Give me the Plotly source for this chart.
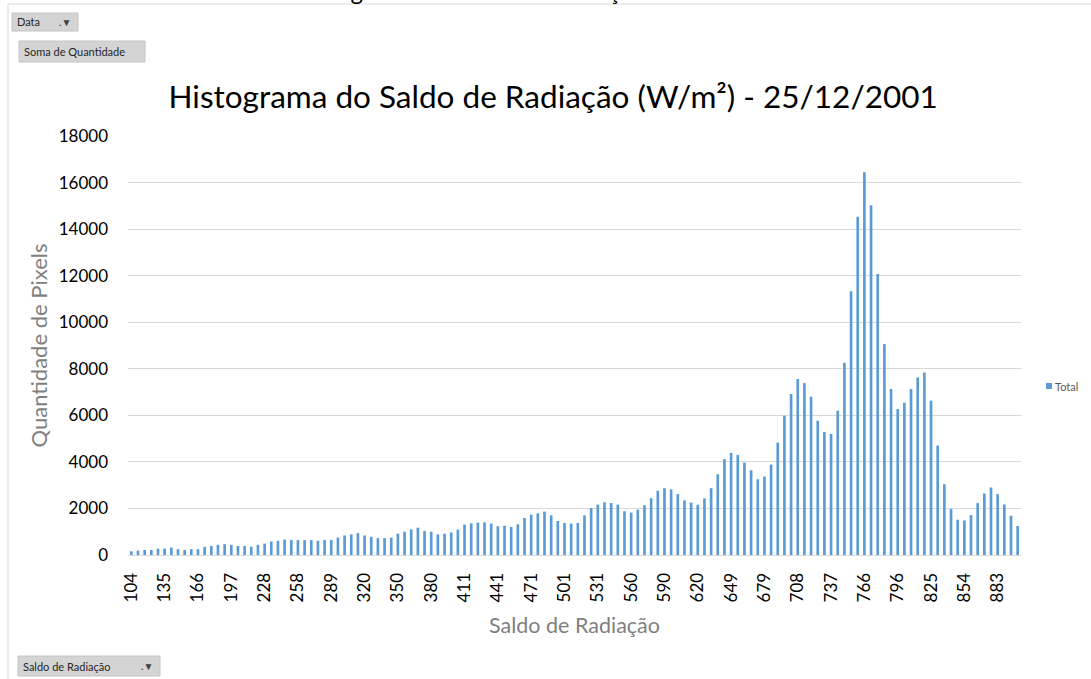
import plotly.graph_objects as go

# Saldo de Radiação bins (W/m²), as shown on the category axis
saldo = [104, 110, 116, 123, 129, 135, 141, 147, 154, 160,
         166, 172, 178, 185, 191, 197, 203, 209, 216, 222,
         228, 234, 240, 246, 252, 258, 264, 270, 277, 283,
         289, 295, 301, 308, 314, 320, 326, 332, 338, 344,
         350, 356, 362, 368, 374, 380, 386, 392, 399, 405,
         411, 417, 423, 429, 435, 441, 447, 453, 459, 465,
         471, 477, 483, 489, 495, 501, 507, 513, 519, 525,
         531, 537, 543, 548, 554, 560, 566, 572, 578, 584,
         590, 596, 602, 608, 614, 620, 626, 631, 637, 643,
         649, 655, 661, 667, 673, 679, 685, 690, 696, 702,
         708, 714, 720, 725, 731, 737, 743, 749, 755, 760,
         766, 772, 778, 784, 790, 796, 802, 808, 813, 819,
         825, 831, 837, 843, 848, 854, 860, 866, 872, 877,
         883, 889, 895, 901]

# Soma de Quantidade (pixels) per bin
quantidade = [160, 190, 220, 220, 275, 275, 320, 250, 220, 250,
              250, 350, 390, 435, 465, 435, 390, 390, 360, 435,
              490, 580, 610, 665, 640, 640, 640, 640, 610, 640,
              640, 750, 840, 885, 940, 840, 780, 725, 725, 750,
              915, 1000, 1100, 1175, 1030, 1000, 885, 915, 970, 1085,
              1305, 1360, 1390, 1405, 1350, 1235, 1260, 1205, 1320, 1590,
              1735, 1790, 1865, 1705, 1460, 1375, 1350, 1375, 1705, 2020,
              2165, 2265, 2235, 2165, 1880, 1820, 1950, 2140, 2440, 2760,
              2870, 2815, 2615, 2345, 2255, 2160, 2430, 2870, 3470, 4115,
              4385, 4300, 3970, 3640, 3255, 3370, 3885, 4830, 5985, 6915,
              7560, 7385, 6800, 5770, 5285, 5200, 6200, 8255, 11330, 14530,
              16440, 15030, 12070, 9060, 7130, 6270, 6540, 7130, 7630, 7840,
              6630, 4700, 3040, 1985, 1515, 1485, 1715, 2230, 2640, 2900,
              2615, 2170, 1685, 1245]

# only every fifth bin gets a label
x_labels = saldo[::5]
y_ticks = [0, 2000, 4000, 6000, 8000, 10000, 12000, 14000, 16000, 18000]

titulo = "Histograma do Saldo de Radiação (W/m²) - 25/12/2001"
font_name = "Lato"
blue = "#5B9BD5"

# plot area in pixels (left, right, top, bottom)
L, R, T, B = 128, 1021, 136, 555
px = lambda v: (v - L) / (R - L)
py = lambda v: (B - v) / (B - T)

fig = go.Figure()
fig.add_trace(go.Bar(x=[str(v) for v in saldo], y=quantidade, name="Total",
                     marker=dict(color=blue, line=dict(width=0))))

fig.update_layout(
    width=1091, height=679,
    paper_bgcolor="white", plot_bgcolor="white",
    margin=dict(l=L, r=1091 - R, t=T, b=679 - B, autoexpand=False),
    bargap=0.6,
    font=dict(family=font_name, color="#404040"),
    title=dict(text=titulo, x=0.507, xanchor="center", y=1 - 97 / 679, yanchor="middle",
               font=dict(family=font_name, size=31.5, color="#000000")),
    showlegend=False,
)

fig.update_xaxes(type="category", tickmode="array",
                 tickvals=[str(v) for v in x_labels], ticktext=[str(v) for v in x_labels],
                 tickangle=-90, tickfont=dict(size=17, color="#000000"),
                 ticklabelstandoff=10, automargin=False,
                 showgrid=False, showline=True, linecolor="#d9d9d9", ticks="",
                 title=dict(text="Saldo de Radiação", font=dict(size=21.5, color="#7f7f7f"),
                            standoff=16))
fig.update_yaxes(range=[0, 18000], tickmode="array", tickvals=y_ticks,
                 ticktext=[str(v) for v in y_ticks],
                 tickfont=dict(size=17, color="#000000"),
                 ticklabelstandoff=19, automargin=False,
                 showgrid=True, gridcolor="#d9d9d9", zeroline=False, ticks="",
                 title=dict(text="Quantidade de Pixels", font=dict(size=22, color="#7f7f7f"),
                            standoff=4))

# legend drawn by hand so it does not push the plot margin
fig.add_shape(type="rect", xref="paper", yref="paper",
              x0=px(1046), x1=px(1052), y0=py(389), y1=py(383),
              fillcolor=blue, line=dict(width=0))
fig.add_annotation(xref="paper", yref="paper", x=px(1053), y=py(386),
                   xanchor="left", yanchor="middle", showarrow=False,
                   text="Total", font=dict(family=font_name, size=11, color="#595959"))

# pivot chart frame lines and the clipped sheet text above it
fig.add_shape(type="line", xref="paper", yref="paper", x0=px(8), x1=px(8), y0=py(679), y1=py(4),
              line=dict(color="#d9d9d9", width=1))
fig.add_shape(type="line", xref="paper", yref="paper", x0=px(8), x1=px(1091), y0=py(4), y1=py(4),
              line=dict(color="#d9d9d9", width=1))
fig.add_annotation(xref="paper", yref="paper", x=px(469), y=py(7),
                   xanchor="center", yanchor="bottom", showarrow=False,
                   text="Histograma do Saldo de Radiação",
                   font=dict(family=font_name, size=24, color="#000000"))


# pivot field buttons
def pivot_button(x0, y0, x1, y1, label, funnel=False):
    fig.add_shape(type="rect", xref="paper", yref="paper",
                  x0=px(x0), x1=px(x1), y0=py(y0), y1=py(y1),
                  fillcolor="#d4d4d4", line=dict(color="#c4c4c4", width=1))
    fig.add_annotation(xref="paper", yref="paper", x=px(x0 + 3), y=py((y0 + y1) / 2),
                       xanchor="left", yanchor="middle", showarrow=False,
                       text=label, font=dict(family=font_name, size=11, color="#262626"))
    if funnel:
        fig.add_annotation(xref="paper", yref="paper", x=px(x1 - 5), y=py((y0 + y1) / 2),
                           xanchor="right", yanchor="middle", showarrow=False,
                           text="<b>.▼</b>", font=dict(size=10, color="#404040"))


pivot_button(12, 13, 78, 31, "Data", funnel=True)
pivot_button(19, 41, 145, 62, "Soma de Quantidade")
pivot_button(18, 656, 160, 676, "Saldo de Radiação", funnel=True)

fig.write_html("out.html", config={"displayModeBar": False},
               post_script="document.body.style.margin='0';")
